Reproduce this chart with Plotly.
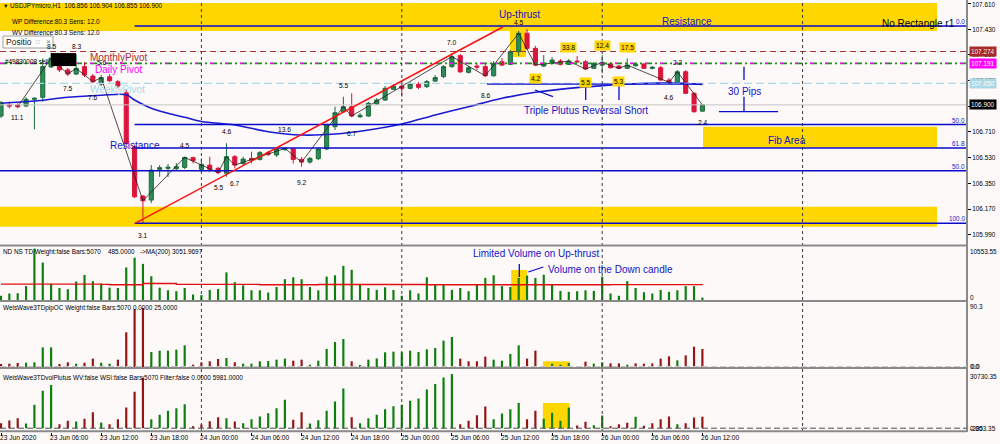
import plotly.graph_objects as go

FONT = "Liberation Sans, Arial, sans-serif"

# ---------------- data ----------------
bars = list(range(85))
time_labels = ["23 Jun 2020", "23 Jun 06:00", "23 Jun 12:00", "23 Jun 18:00", "24 Jun 00:00",
               "24 Jun 06:00", "24 Jun 12:00", "24 Jun 18:00", "25 Jun 00:00", "25 Jun 06:00",
               "25 Jun 12:00", "25 Jun 18:00", "26 Jun 00:00", "26 Jun 06:00", "26 Jun 12:00"]
time_label_bars = [0, 6, 12, 18, 24, 30, 36, 42, 48, 54, 60, 66, 72, 78, 84]
day_separator_bars = [24, 48, 72, 96]
price_ticks = [107.610, 107.430, 107.250, 107.070, 106.890, 106.710, 106.530, 106.350, 106.170, 105.990]
price_tick_text = ["107.610", "107.430", "107.250", "107.070", "106.890", "106.710", "106.530",
                   "106.350", "106.170", "105.990"]

open_ = [106.822, 106.899, 106.899, 106.892, 106.939, 106.953, 107.166, 107.180, 107.145, 107.116,
         107.168, 107.102, 107.046, 107.097, 107.062, 106.985, 106.607, 106.261, 106.233, 106.448,
         106.455, 106.452, 106.462, 106.530, 106.448, 106.478, 106.455, 106.421, 106.537, 106.490,
         106.525, 106.518, 106.565, 106.549, 106.588, 106.591, 106.518, 106.499, 106.523, 106.591,
         106.747, 106.852, 106.887, 106.817, 106.822, 106.906, 106.934, 107.009, 107.032, 107.016,
         107.044, 107.028, 107.067, 107.098, 107.168, 107.245, 107.128, 107.172, 107.168, 107.104,
         107.202, 107.184, 107.273, 107.402, 107.296, 107.172, 107.191, 107.207, 107.184, 107.207,
         107.202, 107.156, 107.179, 107.188, 107.172, 107.156, 107.174, 107.186, 107.156, 107.160,
         107.074, 107.058, 107.132, 106.981, 106.856]
high = [106.927, 106.922, 106.911, 106.955, 106.953, 107.226, 107.263, 107.214, 107.159, 107.256,
        107.201, 107.116, 107.109, 107.116, 107.074, 107.004, 106.619, 106.268, 106.478, 106.478,
        106.485, 106.492, 106.537, 106.537, 106.525, 106.537, 106.465, 106.631, 106.549, 106.537,
        106.572, 106.577, 106.577, 106.605, 106.605, 106.598, 106.534, 106.534, 106.598, 106.766,
        106.887, 106.957, 106.981, 106.843, 106.920, 106.948, 107.032, 107.046, 107.046, 107.060,
        107.060, 107.074, 107.109, 107.179, 107.261, 107.256, 107.172, 107.193, 107.186, 107.207,
        107.228, 107.284, 107.418, 107.432, 107.313, 107.249, 107.235, 107.221, 107.221, 107.242,
        107.214, 107.200, 107.249, 107.200, 107.179, 107.226, 107.193, 107.193, 107.172, 107.172,
        107.088, 107.144, 107.144, 106.990, 106.904]
low = [106.808, 106.876, 106.876, 106.885, 106.729, 106.922, 107.158, 107.131, 107.102, 107.109,
       107.095, 107.053, 107.032, 107.060, 107.018, 106.618, 106.246, 106.070, 106.212, 106.396,
       106.394, 106.443, 106.450, 106.491, 106.432, 106.432, 106.415, 106.396, 106.455, 106.478,
       106.490, 106.510, 106.542, 106.535, 106.577, 106.489, 106.466, 106.489, 106.513, 106.584,
       106.724, 106.843, 106.813, 106.808, 106.815, 106.899, 106.927, 107.004, 106.958, 107.008,
       107.011, 107.018, 107.060, 107.088, 107.160, 107.123, 107.120, 107.144, 107.095, 107.099,
       107.172, 107.179, 107.242, 107.285, 107.172, 107.165, 107.183, 107.176, 107.179, 107.193,
       107.144, 107.151, 107.121, 107.155, 107.151, 107.151, 107.169, 107.151, 107.148, 107.067,
       107.050, 107.053, 106.976, 106.846, 106.855]
close = [106.915, 106.892, 106.887, 106.939, 106.946, 107.168, 107.228, 107.145, 107.116, 107.156,
         107.109, 107.062, 107.091, 107.069, 107.032, 106.630, 106.256, 106.228, 106.443, 106.460,
         106.463, 106.467, 106.532, 106.509, 106.483, 106.448, 106.425, 106.537, 106.478, 106.520,
         106.513, 106.565, 106.554, 106.591, 106.595, 106.518, 106.499, 106.525, 106.591, 106.759,
         106.845, 106.887, 106.822, 106.827, 106.911, 106.934, 107.016, 107.032, 107.016, 107.046,
         107.023, 107.063, 107.091, 107.168, 107.238, 107.132, 107.160, 107.165, 107.104, 107.191,
         107.179, 107.273, 107.402, 107.296, 107.179, 107.188, 107.214, 107.184, 107.207, 107.202,
         107.151, 107.191, 107.198, 107.160, 107.156, 107.179, 107.184, 107.156, 107.163, 107.074,
         107.058, 107.132, 106.981, 106.852, 106.900]

# moving average (blue curve) read at sample bars
ma_bars = [0, 4, 8, 12, 15, 16, 18, 20, 22, 24, 28, 32, 36, 40, 44, 48, 52, 56, 60, 64, 68, 72, 76, 80, 84]
ma_vals = [106.911, 106.927, 106.953, 106.967, 106.971, 106.934, 106.876, 106.841, 106.813, 106.783,
           106.759, 106.712, 106.689, 106.696, 106.724, 106.766, 106.829, 106.887, 106.946, 106.988,
           107.016, 107.034, 107.048, 107.055, 107.043]

# zigzag swing bars (joined through closes) and their labels
zig_bars = [2, 6, 8, 9, 11, 12, 17, 22, 26, 27, 28, 34, 36, 41, 42, 54, 58, 62, 64, 68, 70, 72, 74, 75, 80, 81, 84]
zig_label_bars = [2, 6, 8, 9, 11, 12, 17, 22, 26, 27, 28, 34, 36, 41, 42, 54, 58, 62, 64, 68, 70, 72, 74, 75, 80, 81, 84]
zig_label_text = ["11.1", "8.5", "7.5", "8.3", "7.6", "5.6", "3.1", "4.5", "5.5", "4.6", "6.7", "13.6", "9.2",
                  "5.5", "6.7", "7.0", "8.6", "4.5", "4.2", "33.8", "5.5", "12.4", "5.3", "17.5", "4.6", "2.2", "2.4"]
zig_label_price = [106.815, 107.306, 107.018, 107.306, 106.955, 107.200, 105.988, 106.612, 106.324, 106.710,
                   106.352, 106.724, 106.359, 107.039, 106.696, 107.334, 106.969, 107.478, 107.088, 107.299,
                   107.060, 107.313, 107.067, 107.299, 106.955, 107.200, 106.780]
zig_label_marked = [0, 0, 0, 0, 0, 0, 0, 0, 0, 0, 0, 0, 0, 0, 0, 0, 0, 0, 1, 1, 1, 1, 1, 1, 0, 0, 0]

# pivots / levels
monthly_pivot = 107.274
daily_pivot = 107.191
weekly_pivot = 107.050
bid_price = 106.900
fib_levels = [107.453, 106.762, 106.598, 106.070]
fib_level_text = ["0.0", "50.0", "61.8", "100.0"]
fib_start_bar = 16
second_fib_level = 106.438

# volume panel (ND NS TD)
volume = [840, 1300, 1360, 2780, 10230, 7450, 3240, 2400, 2140, 3690,
          4990, 3760, 3240, 2460, 2400, 6480, 8420, 7190, 4730, 2460,
          1940, 1750, 2400, 1100, 970, 2010, 2200, 5500, 3560, 2910,
          1940, 1940, 1490, 2590, 4140, 4530, 4140, 2590, 1940, 4660,
          4920, 6800, 6020, 2980, 2400, 2010, 2530, 2010, 840, 1940,
          1300, 4530, 3110, 3110, 2010, 2400, 1750, 3040, 4400, 4920,
          2780, 2590, 4400, 4860, 4400, 5050, 3110, 1810, 1620, 1750,
          1940, 1810, 4660, 1300, 840, 3760, 2400, 1550, 1300, 2010,
          1620, 1940, 2780, 2780, 485]
vol_ma_bars = [0, 12, 13, 17, 21, 31, 37, 38, 51, 73, 84]
vol_ma_vals = [3170, 3110, 3050, 3300, 3110, 3050, 3040, 3100, 3040, 3060, 3052]

# Weis wave pip panel
wave_pips = [4.2, 4.6, 5.6, 6.0, 6.5, 27.3, 27.3, 4.2, 6.5, 4.6,
             6.0, 11.6, 6.0, 4.6, 10.2, 48.2, 80.6, 82.0, 20.8, 22.7,
             22.7, 24.1, 30.1, 3.2, 6.5, 7.9, 11.1, 12.5, 6.5, 4.6,
             4.6, 7.9, 8.3, 10.2, 11.6, 8.8, 10.2, 3.2, 8.8, 25.0,
             34.7, 38.9, 7.9, 1.4, 10.2, 12.0, 20.4, 21.3, 20.4, 22.7,
             20.8, 24.5, 26.4, 36.6, 41.7, 11.6, 7.9, 7.9, 14.4, 10.2,
             8.8, 18.1, 30.1, 11.6, 22.7, 0.9, 4.6, 3.2, 5.6, 0.0,
             7.4, 4.6, 6.5, 5.1, 5.1, 3.2, 5.1, 4.6, 5.1, 11.6,
             14.8, 9.3, 16.2, 28.2, 25.0]
wave_pips_dir = ("rrrggggrrg" "rrggrrrrgg" "gggrrrrgrg" "gggggrrggg" "ggrggggggg"
                 "gggggrrrrg" "gggrrggggg" "rggrrgrrrr" "rgrrr")

# Weis wave volume panel
wave_vol = [2630, 4040, 5270, 2460, 12290, 19670, 22650, 2110, 3860, 3510,
            4920, 8430, 2990, 2110, 4740, 10890, 19140, 26690, 4740, 7020,
            9130, 10540, 12640, 1050, 1930, 3690, 5800, 5270, 3510, 2630,
            4740, 6150, 7900, 10540, 14930, 4390, 8430, 2460, 4210, 9130,
            14050, 20900, 5800, 2630, 5270, 7020, 10010, 11590, 12290, 14400,
            15630, 20370, 23180, 26690, 28450, 2110, 3860, 6850, 11410, 4740,
            7730, 10010, 13170, 4740, 9130, 4920, 8080, 3860, 10890, 1410,
            3340, 1580, 6670, 1050, 2110, 2810, 5970, 1230, 2630, 4740,
            6150, 2110, 2630, 5620, 5981]
wave_vol_dir = ("rrrggggrrg" "rrgrrrrrgg" "gggrrrrgrg" "gggggrrggg" "ggrggggggg"
                "gggggrrrrg" "gggrrggggr" "rggrrrgrrr" "rgrrr")

# ---------------- styling ----------------
BG = "#FCF9F8"
GOLD = "#FFD700"
BLUE = "#1414C8"
LINE_BLUE = "#0A0ACD"
GREEN_BAR = "#0E7F0E"
RED_BAR = "#951515"
X_MIN, X_MAX = -0.12, 115.69
PW, PH = 967.0, 432.0


def px_x(px):
    return px / PW


def px_y(py):
    return (PH - py) / PH


dir_color = {"g": GREEN_BAR, "r": RED_BAR}

fig = go.Figure()

fig.add_trace(go.Candlestick(
    x=bars, open=open_, high=high, low=low, close=close,
    increasing=dict(fillcolor="#2E8B57", line=dict(color="#1C6B3C", width=1)),
    decreasing=dict(fillcolor="#DC143C", line=dict(color="#DC143C", width=1)),
    whiskerwidth=0, xaxis="x", yaxis="y", hoverinfo="skip", showlegend=False))

fig.add_trace(go.Scatter(x=ma_bars, y=ma_vals, mode="lines",
                         line=dict(color="#1A1AD2", width=1.6, shape="spline", smoothing=0.9),
                         xaxis="x", yaxis="y", hoverinfo="skip"))

fig.add_trace(go.Scatter(x=zig_bars, y=[close[i] for i in zig_bars], mode="lines",
                         line=dict(color="#202020", width=0.8), xaxis="x", yaxis="y", hoverinfo="skip"))

fig.add_trace(go.Bar(x=bars, y=volume, width=0.26, marker=dict(color=GREEN_BAR, line=dict(width=0)),
                     xaxis="x", yaxis="y2", hoverinfo="skip"))
fig.add_trace(go.Scatter(x=vol_ma_bars, y=vol_ma_vals, mode="lines",
                         line=dict(color="#E01010", width=1.4, shape="hv"),
                         xaxis="x", yaxis="y2", hoverinfo="skip"))
fig.add_trace(go.Bar(x=bars, y=wave_pips, width=0.26,
                     marker=dict(color=[dir_color[c] for c in wave_pips_dir], line=dict(width=0)),
                     xaxis="x", yaxis="y3", hoverinfo="skip"))
fig.add_trace(go.Bar(x=bars, y=wave_vol, width=0.26,
                     marker=dict(color=[dir_color[c] for c in wave_vol_dir], line=dict(width=0)),
                     xaxis="x", yaxis="y4", hoverinfo="skip"))

shapes = []


def rect(x0, x1, y0, y1, yref="y", color=GOLD, layer="below"):
    shapes.append(dict(type="rect", xref="x", yref=yref, x0=x0, x1=x1, y0=y0, y1=y1,
                       fillcolor=color, line=dict(width=0), layer=layer))


def hline(y, x0, x1, color, width=1.5, dash="solid", yref="y"):
    shapes.append(dict(type="line", xref="x", yref=yref, x0=x0, x1=x1, y0=y, y1=y,
                       line=dict(color=color, width=width, dash=dash), layer="above"))


def seg(x0, y0, x1, y1, color=LINE_BLUE, width=1.3, xref="paper", yref="paper"):
    shapes.append(dict(type="line", xref=xref, yref=yref, x0=x0, x1=x1, y0=y0, y1=y1,
                       line=dict(color=color, width=width), layer="above"))


# yellow zones in main panel
rect(X_MIN, 112.1, 107.418, 107.614)
rect(X_MIN, 112.1, 106.046, 106.186)
rect(84.07, 112.1, 106.602, 106.747)
rect(60.96, 62.87, 107.235, 107.439)
# yellow marks in lower panels
rect(61.1, 63.0, 0, 5970, yref="y2")
rect(64.9, 68.1, -1.0, 7.9, yref="y3")
rect(64.9, 68.1, 0, 13240, yref="y4")

# pivots and price lines
hline(monthly_pivot, X_MIN, X_MAX, "#A83232", 1.1, "6px,4px")
hline(daily_pivot, X_MIN, X_MAX, "#1E8C1E", 1.6, "7px,3px,2px,3px")
hline(daily_pivot, X_MIN, X_MAX, "#FF00FF", 1.2, "3px,12px")
hline(weekly_pivot, X_MIN, X_MAX, "#ADD8E6", 1.2, "8px,4px")
hline(bid_price, X_MIN, X_MAX, "#C4C4C4", 1)

# fibonacci lines
for lv in fib_levels:
    hline(lv, fib_start_bar, X_MAX, LINE_BLUE, 1.5)
hline(second_fib_level, X_MIN, X_MAX, LINE_BLUE, 1.5)

# red trend line
shapes.append(dict(type="line", xref="x", yref="y", x0=16.05, y0=106.070, x1=60.1, y1=107.446,
                   line=dict(color="#FF1010", width=1.5), layer="above"))

# triple plutus reversal markings
hline(107.046, 58.2, 84.0, LINE_BLUE, 1.3)
seg(px_x(535), px_y(90), px_x(553), px_y(96.7))
seg(px_x(585.7), px_y(86), px_x(585.7), px_y(100))
seg(px_x(619), px_y(86), px_x(619), px_y(100))
# 30 pips marker
seg(px_x(744), px_y(66.7), px_x(744), px_y(80))
seg(px_x(744), px_y(96.7), px_x(744), px_y(111.7))
seg(px_x(719), px_y(111.7), px_x(778), px_y(111.7))
# volume annotation lines
seg(px_x(519.3), px_y(264), px_x(519.3), px_y(277))
seg(px_x(528.3), px_y(272), px_x(543.3), px_y(267))

# sell order marker box
shapes.append(dict(type="rect", xref="x", yref="y", x0=5.99, x1=8.98, y0=107.172, y1=107.263,
                   fillcolor="#000000", line=dict(width=0), layer="above"))

# day separators
for b in day_separator_bars:
    shapes.append(dict(type="line", xref="x", yref="paper", x0=b, x1=b, y0=0, y1=1,
                       line=dict(color="#3A3A3A", width=1, dash="dot"), layer="above"))

# panel separators and right border
for py in [245.5, 301.0, 368.0, 431.3]:
    seg(0, px_y(py), 1, px_y(py), color="#8A8A8A", width=2)
seg(1, 0, 1, 1, color="#8A8A8A", width=2)
# baselines of the wave panels
seg(0, px_y(366.5), 1, px_y(366.5), color="#C8C8C8", width=1)
shapes[-1]["line"]["dash"] = "6px,3px"
seg(0, px_y(428.2), 1, px_y(428.2), color="#505050", width=1)
shapes[-1]["line"]["dash"] = "6px,3px"

# Positio box
shapes.append(dict(type="rect", xref="paper", yref="paper", x0=px_x(3), x1=px_x(53), y0=px_y(48), y1=px_y(36),
                   fillcolor="#FFFFFF", line=dict(color="#A0A0A0", width=1), layer="above"))

anns = []


def T(px, py, text, size=6.4, color="#000000", xanchor="left", bg=None, yanchor="middle"):
    d = dict(x=px_x(px), y=px_y(py), xref="paper", yref="paper", text=text, showarrow=False,
             xanchor=xanchor, yanchor=yanchor, font=dict(size=size, color=color, family=FONT),
             borderpad=0)
    if bg:
        d["bgcolor"] = bg
    anns.append(d)


# header texts
T(2, 6, "▼", 5.5)
T(9, 6, "USDJPYmicro,H1  106.856 106.904 106.855 106.900")
T(11, 21.5, "WP Difference:80.3 Sens: 12.0")
T(11, 32.5, "WV Difference:80.3 Sens: 12.0")
T(5, 42, "Positio", 8.5, "#202020")
T(35, 42, "□", 6, "#909090")
T(45, 42, "×", 8, "#707070")
T(4, 61, "#49830008 sell", 6.4)

# zigzag labels
for b, s, p, m in zip(zig_label_bars, zig_label_text, zig_label_price, zig_label_marked):
    d = dict(x=b, y=p, xref="x", yref="y", text=s, showarrow=False, xanchor="center", yanchor="middle",
             font=dict(size=6.6, color="#000000", family=FONT), borderpad=1)
    if m:
        d["bgcolor"] = GOLD
    anns.append(d)

# chart texts
T(89, 57.5, "MonthlyPivot", 10, "#A83232")
T(94, 69.5, "Daily Pivot", 10, "#FF00FF")
T(89, 89.5, "WeeklyPivot", 10, "#ADD8E6")
T(135, 145, "Resistance", 10, BLUE, "center")
T(519, 14, "Up-thrust", 10, BLUE, "center")
T(687, 21, "Resistance", 10, BLUE, "center")
T(881, 23.5, "No Rectangle r1", 10, "#000000")
T(586, 110, "Triple Plutus Reversal Short", 10, BLUE, "center")
T(744, 91, "30 Pips", 10, BLUE, "center")
T(787, 141, "Fib Area", 10, BLUE, "center")

# fib level labels
for lv, s in zip(fib_levels, fib_level_text):
    anns.append(dict(x=px_x(966), y=lv, xref="paper", yref="y", text=s, showarrow=False, xanchor="right",
                     yanchor="bottom", font=dict(size=6.4, color=BLUE, family=FONT), borderpad=0))
anns.append(dict(x=px_x(966), y=second_fib_level, xref="paper", yref="y", text="50.0", showarrow=False,
                 xanchor="right", yanchor="bottom", font=dict(size=6.4, color=BLUE, family=FONT), borderpad=0))

# top price tick label (kept inside the page)
anns.append(dict(x=px_x(970.5), y=price_ticks[0], xref="paper", yref="y", text=price_tick_text[0],
                 showarrow=False, xanchor="left", yanchor="middle", yshift=-1,
                 font=dict(size=6.4, color="#000000", family=FONT), borderpad=0))

# price boxes on the right axis
for p, bg, fc in [(monthly_pivot, "#A52A2A", "#FFE4E4"), (daily_pivot, "#FF00FF", "#FFFFFF"),
                  (weekly_pivot, "#ADD8E6", "#FFFFFF"), (bid_price, "#000000", "#FFFFFF")]:
    anns.append(dict(x=px_x(968.5), y=p, xref="paper", yref="y", text=f"{p:.3f}", showarrow=False,
                     xanchor="left", yanchor="middle", bgcolor=bg, font=dict(size=6.4, color=fc, family=FONT),
                     borderpad=1))

# lower panel titles / scales
T(2, 252, "ND NS TD Weight:false Bars:5070    485.0000   ->MA(200) 3051.9697")
T(536, 253, "Limited Volume on Up-thrust", 10, BLUE, "center")
T(610, 269, "Volume on the Down candle", 10, BLUE, "center")
T(2, 307.5, "WeisWave3TDpipOC Weight:false Bars:5070 0.0000 25.0000")
T(2, 377, "WeisWave3TDvolPlutus WV:false WSI:false Bars:5070 Filter:false 0.0000 5981.0000")
T(969, 251, "10553.55")
T(969, 297, "0")
T(969, 306.5, "90.3")
T(969, 366, "0.0")
T(970, 366, "0.0")
T(969, 376.5, "30730.35")
T(969, 428, "-2853.35")
T(969, 428, "0.00")

# time labels
for b, s in zip(time_label_bars, time_labels):
    anns.append(dict(x=b, y=px_y(437.5), xref="x", yref="paper", text=s, showarrow=False,
                     xanchor="left", yanchor="middle", xshift=-2,
                     font=dict(size=6.6, color="#000000", family=FONT), borderpad=0))

noax = dict(showgrid=False, zeroline=False, showticklabels=False, ticks="", fixedrange=True)

axis_tick_text = [""] + price_tick_text[1:]

fig.update_layout(
    width=1000, height=444, margin=dict(l=0, r=33, t=0, b=12),
    paper_bgcolor=BG, plot_bgcolor=BG, showlegend=False, barmode="overlay", hovermode=False,
    font=dict(family=FONT, size=7, color="#000000"),
    xaxis=dict(domain=[0, 1], range=[X_MIN, X_MAX], anchor="y4", showgrid=False, zeroline=False,
               showticklabels=False, ticks="outside", ticklen=3, tickcolor="#000000",
               tickvals=time_label_bars, rangeslider=dict(visible=False), fixedrange=True),
    yaxis=dict(domain=[px_y(244), 1], range=[105.925, 107.635], side="right", anchor="x",
               tickvals=price_ticks, ticktext=axis_tick_text, ticks="outside", ticklen=3,
               tickcolor="#000000", tickfont=dict(size=6.4, family=FONT, color="#000000"),
               showgrid=False, zeroline=False, fixedrange=True),
    yaxis2=dict(domain=[px_y(300), px_y(247)], range=[0, 10553.55], side="right", anchor="x", **noax),
    yaxis3=dict(domain=[px_y(367), px_y(302)], range=[0, 90.3], side="right", anchor="x", **noax),
    yaxis4=dict(domain=[0, px_y(369.7)], range=[-2000, 30730.35], side="right", anchor="x", **noax),
    shapes=shapes, annotations=anns,
)

fig.write_html("out.html", config={"displayModeBar": False},
               post_script="document.body.style.margin='0px';document.body.style.overflow='hidden';")
